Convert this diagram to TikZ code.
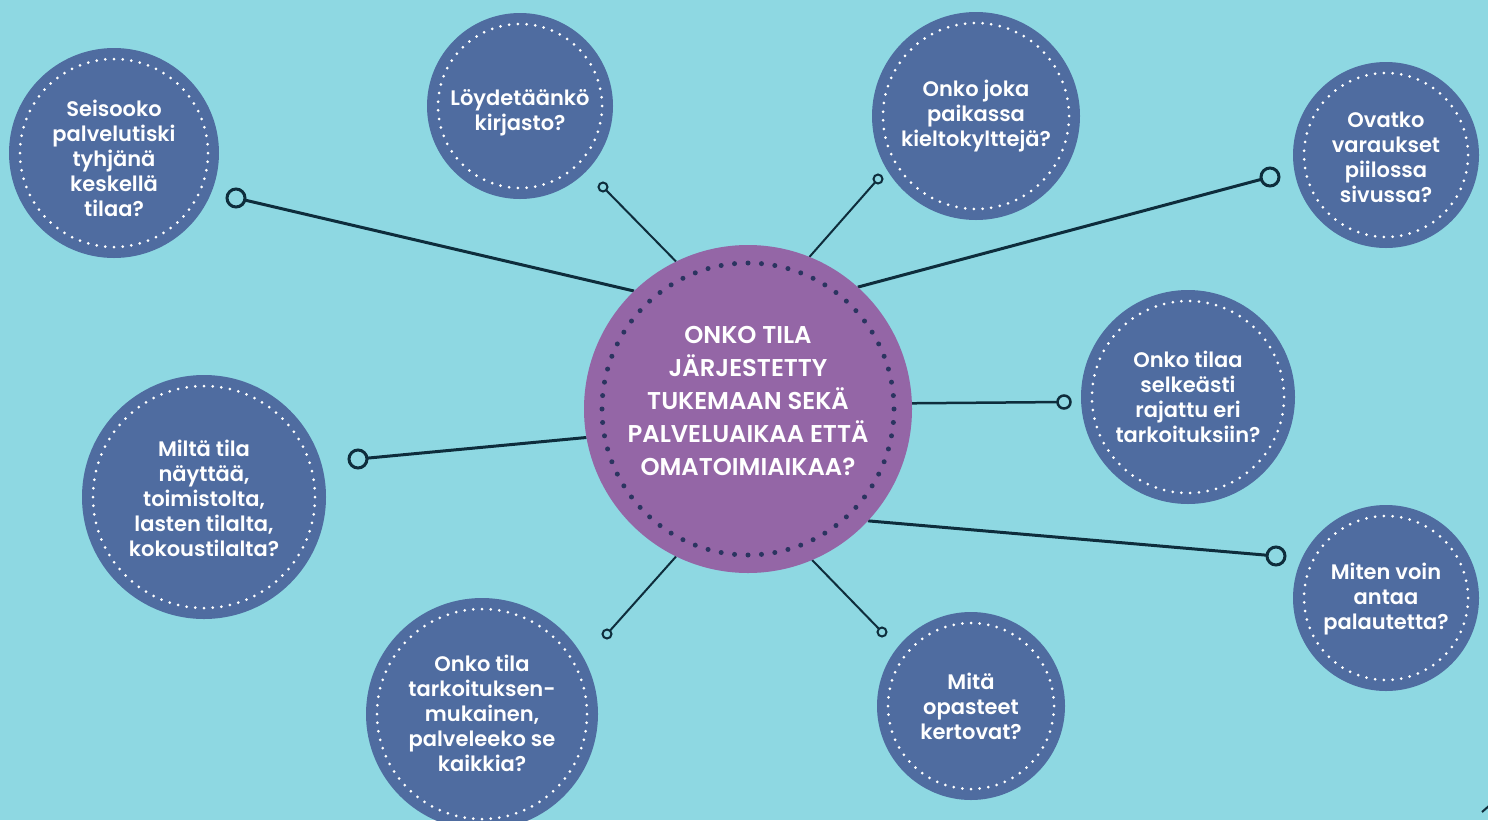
\documentclass[tikz,border=0pt]{standalone}
\usepackage{fontspec}
\newfontfamily\qf{Poppins SemiBold}
\pgfdeclarelayer{bgfill}
\pgfdeclarelayer{lines}
\pgfsetlayers{bgfill,lines,main}
\definecolor{bgc}{HTML}{8ED8E2}
\definecolor{bubc}{HTML}{4F6CA0}
\definecolor{purc}{HTML}{9466A6}
\definecolor{linec}{HTML}{0E2D3C}
\definecolor{pdot}{HTML}{2B3460}
\tikzset{
  bub/.style={circle, fill=bubc, inner sep=0pt, outer sep=0pt},
  bubtxt/.style={inner sep=0pt, text=white, align=center,
    font=\qf\fontsize{21}{25}\selectfont},
  cen/.style={circle, fill=purc, inner sep=0pt, outer sep=0pt, minimum size=328pt},
  centxt/.style={text=white, align=center, font=\qf\fontsize{24.3}{33}\selectfont, inner sep=0pt},
  bigring/.style={circle, draw=linec, line width=3pt, minimum size=18pt, inner sep=0pt, outer sep=0pt},
  midring/.style={circle, draw=linec, line width=2.5pt, minimum size=13pt, inner sep=0pt, outer sep=0pt},
  smallring/.style={circle, draw=linec, line width=2pt, minimum size=9pt, inner sep=0pt, outer sep=0pt},
  conthick/.style={draw=linec, line width=3pt},
  conmid/.style={draw=linec, line width=2.5pt},
  conthin/.style={draw=linec, line width=2pt},
}
% name, x, y, radius, text y-offset, text
\newcommand\bubble[6]{%
  \node[bub, minimum size=2*#4pt] (#1) at (#2,#3) {};
  \node[bubtxt] (#1t) at (#2,#3+#5) {#6};
  \pgfmathsetmacro\rr{#4-11}
  \pgfmathtruncatemacro\nn{round(2*pi*\rr/8.7)}
  \pgfmathsetmacro\stp{360/\nn}
  \foreach \k in {1,...,\nn} \fill[white] (#1.center) ++(\stp*\k:\rr) circle[radius=1.5];
}
\begin{document}
\begin{tikzpicture}[x=1pt,y=-1pt]
\begin{pgfonlayer}{bgfill}
\fill[bgc] (0,0) rectangle (1488,820);
\end{pgfonlayer}
\useasboundingbox (0,0) rectangle (1488,820);

% central circle
\node[cen] (c) at (748,409) {};
\foreach \k in {1,...,68} \fill[pdot] (c.center) ++(5.2941*\k:146) circle[radius=2.5];
\node[centxt] (ct) at (748,401) {ONKO TILA\\JÄRJESTETTY\\TUKEMAAN SEKÄ\\PALVELUAIKAA ETTÄ\\OMATOIMIAIKAA?};

% bubbles
\bubble{b1}{114}{153}{105}{5}{Seisooko\\palvelutiski\\tyhjänä\\keskellä\\tilaa?}
\bubble{b2}{520}{106}{93}{7}{Löydetäänkö\\kirjasto?}
\bubble{b3}{976}{116}{104}{0}{Onko joka\\paikassa\\kieltokylttejä?}
\bubble{b4}{1386}{155}{93}{2}{Ovatko\\varaukset\\piilossa\\sivussa?}
\bubble{b5}{1188}{397}{107}{0}{Onko tilaa\\selkeästi\\rajattu eri\\tarkoituksiin?}
\bubble{b6}{1386}{598}{93}{1}{Miten voin\\antaa\\palautetta?}
\bubble{b7}{971}{706}{94}{0}{Mitä\\opasteet\\kertovat?}
\bubble{b8}{482}{714}{116}{-1}{Onko tila\\tarkoituksen-\\mukainen,\\palveleeko se\\kaikkia?}
\bubble{b9}{204}{497}{122}{1}{Miltä tila\\näyttää,\\toimistolta,\\lasten tilalta,\\kokoustilalta?}

% connector end rings
\node[bigring] (r1) at (236,198) {};
\node[smallring] (r2) at (603,187) {};
\node[smallring] (r3) at (878,179) {};
\node[bigring] (r4) at (1270,177) {};
\node[midring] (r5) at (1064,402) {};
\node[bigring] (r6) at (1276,556) {};
\node[smallring] (r7) at (882,632) {};
\node[smallring] (r8) at (607,634) {};
\node[bigring] (r9) at (358,459) {};

\begin{pgfonlayer}{lines}
\draw[conthick] (r1) -- (c.134);
\draw[conthin] (r2) -- (c.116);
\draw[conthin] (r3) -- (c.68);
\draw[conthick] (r4) -- (c.48);
\draw[conmid] (r5) -- (c.2);
\draw[conthick] (r6) -- (c.-43.5);
\draw[conthin] (r7) -- (c.-67);
\draw[conthin] (r8) -- (c.-116);
\draw[conthick] (r9) -- (c.-170);
\coordinate (k1) at (1482,812);
\coordinate (k2) at (1490,805);
\draw[conthin] (k1) -- (k2);
\end{pgfonlayer}
\end{tikzpicture}
\end{document}
